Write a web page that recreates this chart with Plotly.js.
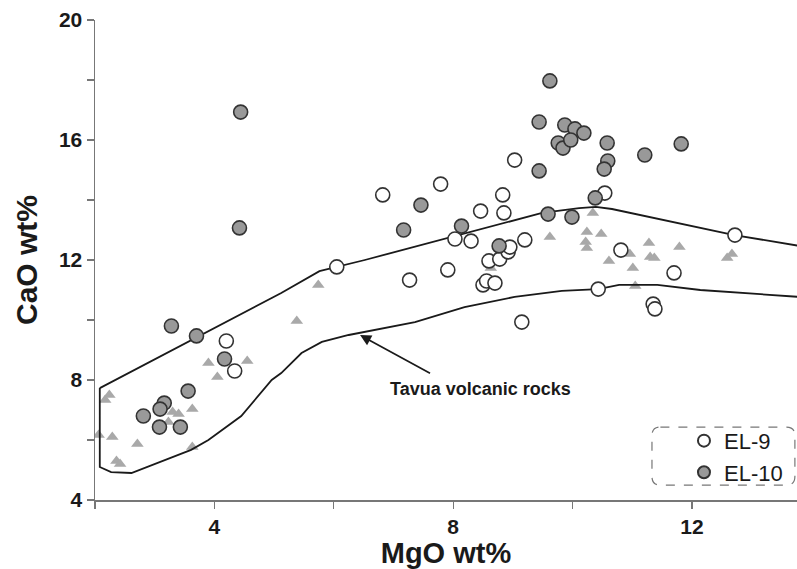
<!DOCTYPE html>
<html>
<head>
<meta charset="utf-8">
<script src="https://cdn.plot.ly/plotly-3.0.1.min.js"></script>
<style>html,body{margin:0;padding:0;background:#fff}#chart{width:797px;height:569px}</style>
</head>
<body>
<div id="chart"></div>
<script>
// EL-9 (open circles)
const el9MgO = [4.20,4.34,6.05,6.82,7.27,7.79,7.91,8.03,8.30,8.46,8.60,8.78,8.83,8.85,8.92,8.95,9.03,9.15,9.20,8.50,8.56,8.70,10.54,10.81,10.43,11.70,11.35,11.38,12.72];
const el9CaO = [9.30,8.30,11.77,14.17,11.33,14.53,11.67,12.70,12.63,13.63,11.97,12.03,14.17,13.57,12.27,12.43,15.33,9.93,12.67,11.17,11.30,11.23,14.23,12.33,11.03,11.57,10.53,10.37,12.83];
// EL-10 (grey filled circles)
const el10MgO = [3.28,3.70,4.17,3.56,2.81,3.16,3.09,3.08,3.43,4.44,4.42,7.46,7.17,8.14,9.44,9.59,8.77,9.44,9.62,9.87,10.04,10.19,9.76,9.84,9.97,10.58,10.59,10.53,11.21,11.82,10.38,9.99];
const el10CaO = [9.80,9.47,8.70,7.63,6.80,7.23,7.03,6.43,6.43,16.93,13.07,13.83,13.00,13.13,14.97,13.53,12.47,16.60,17.97,16.50,16.37,16.23,15.90,15.73,16.00,15.90,15.30,15.03,15.50,15.87,14.07,13.43];
// Tavua volcanic rocks (grey triangles)
const tavMgO = [2.24,2.17,2.06,2.29,2.71,2.36,2.42,3.30,3.40,3.23,3.63,3.63,4.05,3.90,4.55,5.74,5.38,8.63,9.62,10.34,10.24,10.48,10.22,10.24,10.96,10.61,11.01,11.28,11.30,11.37,11.79,12.59,12.67,11.05];
const tavCaO = [7.50,7.33,6.17,6.10,5.87,5.30,5.20,6.93,6.87,6.60,7.03,5.77,8.10,8.57,8.63,11.17,9.97,11.73,12.77,13.57,12.93,12.87,12.60,12.40,12.20,11.97,11.73,12.57,12.10,12.07,12.43,12.07,12.20,11.13];
// Tavua field outline
const fieldMgO = [2.08,2.08,2.27,2.61,3.61,3.90,4.45,4.96,5.12,5.46,5.80,6.25,7.36,8.19,9.03,9.82,10.43,10.78,11.42,12.14,13.80,13.80,12.71,10.66,10.39,10.11,9.49,6.52,5.76,5.12,2.08];
const fieldCaO = [7.73,5.10,4.93,4.90,5.67,6.00,6.80,8.00,8.23,8.90,9.27,9.50,9.93,10.43,10.77,10.97,11.03,11.17,11.17,11.00,10.77,12.47,12.83,13.70,13.77,13.73,13.57,12.00,11.63,10.90,7.73];
const xTicks = [2,4,6,8,10,12];
const xTickText = ['','4','','8','','12'];
const yTicks = [4,6,8,10,12,14,16,18,20];
const yTickText = ['4','','8','','12','','16','','20'];

const FONT = 'Arial, "Liberation Sans", sans-serif';

const traces = [
  {x: tavMgO, y: tavCaO, type: 'scatter', mode: 'markers', showlegend: false,
   marker: {symbol: 'triangle-up', size: 11, color: '#a9a9a9', line: {width: 0}}},
  {x: fieldMgO, y: fieldCaO, type: 'scatter', mode: 'lines', showlegend: false,
   line: {color: '#1a1a1a', width: 1.8}, cliponaxis: false},
  {x: el9MgO, y: el9CaO, type: 'scatter', mode: 'markers', name: 'EL-9',
   marker: {symbol: 'circle', size: 14, color: '#ffffff', line: {color: '#333', width: 1.6}}},
  {x: el10MgO, y: el10CaO, type: 'scatter', mode: 'markers', name: 'EL-10',
   marker: {symbol: 'circle', size: 14, color: '#999999', line: {color: '#333', width: 1.6}}}
];

const x0 = 0.7934, x1 = 0.997, y0 = 0.031, y1 = 0.152, rx = 0.012, ry = 0.018;
const boxPath = `M ${x0+rx},${y1} L ${x1-rx},${y1} Q ${x1},${y1} ${x1},${y1-ry} L ${x1},${y0+ry} Q ${x1},${y0} ${x1-rx},${y0} L ${x0+rx},${y0} Q ${x0},${y0} ${x0},${y0+ry} L ${x0},${y1-ry} Q ${x0},${y1} ${x0+rx},${y1} Z`;

const layout = {
  width: 797, height: 569,
  margin: {l: 95, r: 0, t: 20, b: 69},
  paper_bgcolor: '#fff', plot_bgcolor: '#fff',
  font: {family: FONT, color: '#1a1a1a'},
  xaxis: {
    range: [2, 13.76], showgrid: false, zeroline: false,
    showline: true, linecolor: '#777', linewidth: 1.5,
    ticks: 'outside', ticklen: 7, tickwidth: 1.2, tickcolor: '#777',
    tickvals: xTicks, ticktext: xTickText,
    tickfont: {family: FONT, size: 21, color: '#1a1a1a', weight: 'bold'},
    title: {text: '<b>MgO wt%</b>', font: {family: FONT, size: 29, color: '#1a1a1a'}, standoff: 6}
  },
  yaxis: {
    range: [4, 20], showgrid: false, zeroline: false,
    showline: true, linecolor: '#777', linewidth: 1.5,
    ticks: 'outside', ticklen: 7, tickwidth: 1.2, tickcolor: '#777',
    tickvals: yTicks, ticktext: yTickText,
    tickfont: {family: FONT, size: 21, color: '#1a1a1a', weight: 'bold'},
    title: {text: '<b>CaO wt%</b>', font: {family: FONT, size: 30, color: '#1a1a1a'}, standoff: 12}
  },
  legend: {
    x: 0.839, y: 0.167, xanchor: 'left', yanchor: 'top',
    bgcolor: 'rgba(0,0,0,0)', borderwidth: 0,
    font: {family: FONT, size: 22, color: '#1a1a1a'},
    itemsizing: 'constant'
  },
  shapes: [
    {type: 'path', xref: 'paper', yref: 'paper', path: boxPath,
     line: {color: '#777', width: 1.2, dash: 'dash'}}
  ],
  annotations: [
    {x: 6.44, y: 9.5, xref: 'x', yref: 'y', text: ' ', showarrow: true,
     ax: 73, ay: 40, arrowhead: 2, arrowsize: 1.3, arrowwidth: 1.7, arrowcolor: '#1a1a1a', standoff: 0},
    {x: 8.45, y: 7.7, xref: 'x', yref: 'y', text: '<b>Tavua volcanic rocks</b>', showarrow: false,
     font: {family: FONT, size: 18, color: '#1a1a1a'}}
  ]
};

Plotly.newPlot('chart', traces, layout, {displayModeBar: false, staticPlot: true});
</script>
</body>
</html>
